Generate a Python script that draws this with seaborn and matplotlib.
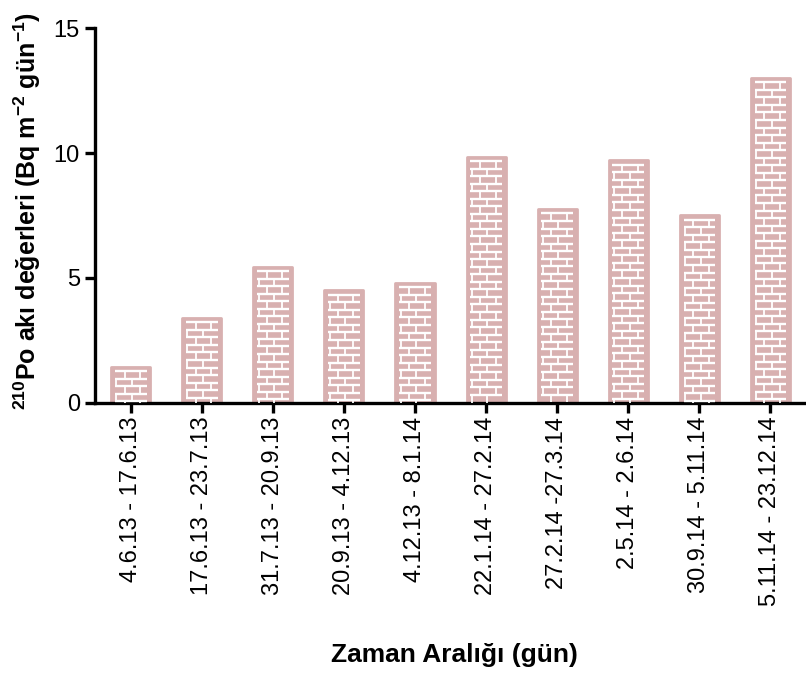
import matplotlib
matplotlib.use("Agg")
import matplotlib.pyplot as plt
import numpy as np
import pandas as pd
import seaborn as sns
from matplotlib.collections import LineCollection

# Sampling intervals and 210Po flux values
intervals = [
    "4.6.13 - 17.6.13",
    "17.6.13 - 23.7.13",
    "31.7.13 - 20.9.13",
    "20.9.13 - 4.12.13",
    "4.12.13 - 8.1.14",
    "22.1.14 - 27.2.14",
    "27.2.14 -27.3.14",
    "2.5.14 - 2.6.14",
    "30.9.14 - 5.11.14",
    "5.11.14 - 23.12.14",
]
po_flux = [1.45, 3.4, 5.45, 4.5, 4.8, 9.85, 7.75, 9.7, 7.5, 13.0]
y_ticks = [0, 5, 10, 15]

df = pd.DataFrame({"interval": intervals, "flux": po_flux})

sns.set_theme(style="ticks")
plt.rcParams["font.family"] = ["Liberation Sans", "DejaVu Sans"]
plt.rcParams["mathtext.fontset"] = "custom"
plt.rcParams["mathtext.rm"] = "Liberation Sans:bold"
plt.rcParams["mathtext.bf"] = "Liberation Sans:bold"
plt.rcParams["mathtext.it"] = "Liberation Sans:bold"

bar_color = "#d8b0b0"

fig = plt.figure(figsize=(8.06, 6.75), dpi=100)
ax = fig.add_axes([0.118, 0.403, 0.882, 0.5555])

sns.barplot(data=df, x="interval", y="flux", color=bar_color, saturation=1,
            width=0.55, ax=ax)

# brick texture drawn inside each bar
row_h = 0.302          # brick row height (data units)
top_gap = 0.17
side_gap = 0.052
segs_h, segs_v = [], []
for p in ax.patches:
    p.set_edgecolor(bar_color)
    p.set_linewidth(2)
    p.set_joinstyle("round")
    x0 = p.get_x() + side_gap
    x1 = p.get_x() + p.get_width() - side_gap
    w = x1 - x0
    top = p.get_height()
    brick_w = 0.49 * w
    ys = np.arange(top - top_gap, 0.05, -row_h)
    for i, y in enumerate(ys):
        segs_h.append([(x0, y), (x1, y)])
        y_low = max(y - row_h, 0.0)
        off = 0.31 if i % 2 == 0 else 0.05
        xv = off * w
        while xv < w:
            segs_v.append([(x0 + xv, y), (x0 + xv, y_low)])
            xv += brick_w
ax.add_collection(LineCollection(segs_h, colors="white", linewidths=1.7, zorder=3))
ax.add_collection(LineCollection(segs_v, colors="white", linewidths=1.3, zorder=3))

ax.set_xlim(-0.5, 9.5)
ax.set_ylim(0, 15)
ax.set_yticks(y_ticks)
ax.set_yticklabels([str(t) for t in y_ticks])

for side in ["top", "right"]:
    ax.spines[side].set_visible(False)
for side in ["left", "bottom"]:
    ax.spines[side].set_linewidth(2.4)
    ax.spines[side].set_color("black")
    ax.spines[side].set_capstyle("projecting")

ax.tick_params(axis="both", length=7, width=2.4, color="black",
               labelsize=17, labelcolor="black", direction="out")
ax.tick_params(axis="x", pad=3)
ax.tick_params(axis="y", pad=4)
plt.setp(ax.get_xticklabels(), rotation=90)

ax.set_xlabel("Zaman Aralığı (gün)", fontsize=19, fontweight="bold",
              color="black")
ax.set_ylabel(r"$^{210}$Po akı değerleri (Bq m$^{-2}$ gün$^{-1}$)",
              fontsize=18, fontweight="bold", color="black")
ax.xaxis.set_label_coords(0.505, -0.64)
ax.yaxis.set_label_coords(-0.073, 0.512)

fig.savefig("out.png", dpi=100)
